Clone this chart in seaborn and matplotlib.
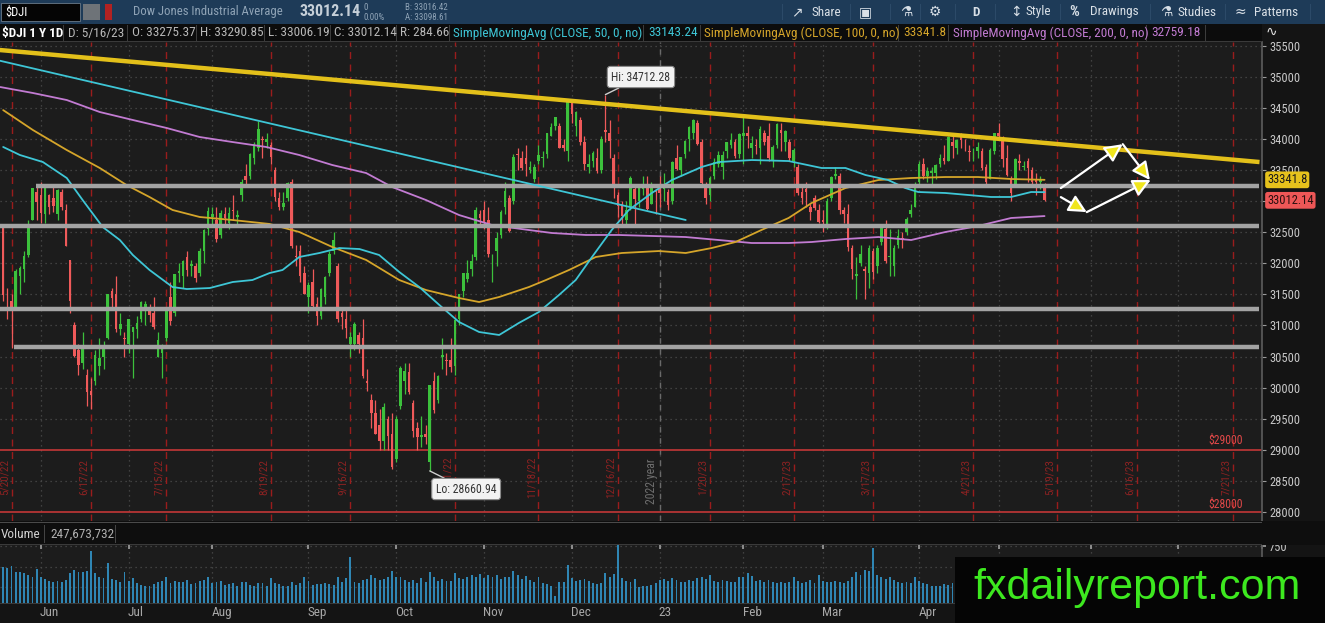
import numpy as np
import pandas as pd
import matplotlib
matplotlib.use("Agg")
import matplotlib.pyplot as plt
import matplotlib.transforms as mtrans
from matplotlib.patches import Rectangle
from matplotlib import font_manager
import seaborn as sns

# ---------------- data ($DJI daily, 5/17/22 - 5/16/23) ----------------
holidays = ['2022-05-30', '2022-06-20', '2022-07-04', '2022-09-05', '2022-11-24', '2022-12-26',
            '2023-01-02', '2023-01-16', '2023-02-20', '2023-04-07', '2023-05-29', '2023-06-19',
            '2023-07-04']

opens = [
    32450, 32600, 31300, 31400, 31300, 31800, 31900, 32130, 32700, 33150,
    33100, 32800, 33100, 33050, 32800, 33150, 32850, 32050, 31000, 30600, 30400, 30200, 29950, 30100, 30350, 30500, 30800, 31550, 31500, 30950, 30800,
    30700, 30900, 30950, 31100, 31250, 31250, 31200, 30500, 30550, 30800, 31450, 31200, 31850, 31800, 32100, 31950, 31950, 31850, 32200, 32550,
    32750, 32700, 32450, 32800, 32650, 32850, 32750, 33100, 33400, 33400, 33700, 33850, 34000, 33950, 33900, 33500, 33050, 32900, 33050, 33300, 32100, 32200, 31850,
    31450, 31700, 31350, 31150, 31450, 31850, 32200, 31950, 31200, 31100, 30700, 30700, 30850, 30800, 30100, 29800, 29600, 29400, 29150, 29500, 29250,
    28850, 29700, 30100, 30250, 29750, 29350, 29200, 29250, 28800, 30100, 29800, 30500, 30450, 30450, 30350, 31100, 31550, 31750, 31900, 32100, 32800,
    32850, 32700, 32000, 32200, 32450, 32900, 33050, 33000, 33750, 33700, 33700, 33500, 33350, 33650, 33700, 33750, 34050, 34200, 34200, 33900, 33800,
    34600, 34200, 34300, 33950, 33550, 33650, 33700, 33500, 34150, 34100, 33700, 33100, 32950, 32700, 32900, 33200, 33000, 33200, 33250, 32950, 33150,
    33200, 33200, 33150, 33000, 33700, 33500, 33750, 34000, 34100, 34250, 33950, 33250, 33100, 33400, 33600, 33550, 33800, 33900, 33950, 33750,
    34050, 34100, 33850, 33900, 33850, 34100, 34050, 33650, 33900, 34150, 33950, 33950, 33650, 33550, 33150, 33200, 32900, 33050, 32850,
    32700, 32600, 33050, 33400, 33400, 32850, 32800, 32250, 31800, 32000, 31900, 31850, 32200, 31950, 32350, 32550, 32100, 31950, 32300, 32400, 32500, 32800, 32900,
    33300, 33600, 33400, 33450, 33450, 33600, 33700, 33650, 33950, 33850, 34050, 33900, 33800, 33800, 33800, 33800, 33550, 33350, 33800,
    34100, 34000, 33700, 33350, 33250, 33650, 33550, 33650, 33500, 33350, 33300, 33275.37,
]
highs = [
    32680, 32620, 31600, 31500, 31900, 31950, 32200, 32700, 33213, 33250,
    33300, 33250, 33120, 33270, 33200, 33200, 32950, 32060, 31050, 30700, 30900, 30300, 30150, 30600, 30800, 30750, 31500, 31600, 31800, 31200, 30900,
    31100, 30950, 31150, 31400, 31400, 31350, 31450, 30900, 30700, 31300, 31700, 31830, 32000, 32050, 32200, 32050, 32000, 32250, 32550, 32900,
    32900, 32900, 32850, 32900, 32900, 33100, 32850, 33350, 33600, 33780, 33950, 34280, 34050, 34100, 33950, 33550, 33150, 33150, 33300, 33350, 32300, 32300, 31950,
    31700, 31900, 31450, 31600, 31800, 32200, 32500, 32000, 31300, 31250, 30900, 31050, 30900, 31100, 30300, 29900, 29800, 29650, 29750, 29550, 29600,
    29550, 30350, 30400, 30400, 29800, 29450, 29550, 29400, 30050, 30250, 30200, 30800, 30550, 30800, 31100, 31500, 31850, 32050, 32150, 32900, 32850,
    33000, 32900, 32150, 32500, 32850, 33300, 33100, 33750, 33850, 33800, 33900, 33650, 33600, 33900, 33800, 34100, 34250, 34350, 34250, 34000, 34600,
    34600, 34450, 34350, 34050, 33750, 33800, 33850, 34050, 34712.28, 34300, 33750, 33150, 33000, 33000, 33400, 33250, 33250, 33400, 33400, 33300, 33200,
    33400, 33450, 33200, 33650, 33900, 33700, 33980, 34200, 34320, 34300, 34000, 33300, 33400, 33700, 33800, 33800, 33950, 34100, 34000, 34100,
    34350, 34200, 34050, 34000, 34200, 34150, 34250, 33900, 34250, 34250, 34150, 34000, 33850, 33600, 33250, 33300, 32950, 33100, 32950,
    32850, 33050, 33400, 33550, 33450, 32900, 32950, 32300, 32100, 32300, 31950, 32300, 32250, 32300, 32600, 32700, 32550, 32300, 32550, 32500, 32750, 32950, 33300,
    33650, 33700, 33550, 33550, 33600, 33750, 33900, 34050, 34050, 34000, 34100, 34000, 33900, 33850, 33950, 33850, 33600, 33850, 34100,
    34257, 34050, 33900, 33400, 33700, 33750, 33650, 33700, 33550, 33450, 33400, 33290.85,
]
lows = [
    32360, 31400, 31100, 30640, 31250, 31500, 31700, 32100, 32690, 32700,
    32650, 32650, 32800, 32830, 32700, 32850, 32270, 31200, 30500, 30200, 30300, 29700, 29650, 30050, 30200, 30300, 30780, 31300, 30900, 30850, 30500,
    30550, 30150, 30800, 31050, 31000, 31050, 30950, 30500, 30150, 30750, 31000, 31150, 31700, 31600, 31800, 31800, 31700, 31800, 32000, 32450,
    32600, 32350, 32400, 32600, 32550, 32700, 32600, 33000, 33250, 33350, 33600, 33800, 33700, 33850, 33600, 33000, 32850, 32850, 33000, 32250, 31950, 31700, 31500,
    31200, 31250, 31000, 31100, 31350, 31800, 32150, 31050, 30950, 30800, 30500, 30600, 30550, 30150, 29950, 29350, 29250, 29000, 29000, 29000, 28700,
    28800, 29650, 29900, 29900, 29200, 29000, 29050, 29100, 28660.94, 29600, 29750, 30300, 30200, 30250, 30200, 31000, 31450, 31700, 31800, 32050, 32600,
    32550, 32100, 31700, 31950, 32400, 32800, 32500, 32950, 33500, 33500, 33400, 33450, 33300, 33600, 33550, 33700, 34050, 34150, 33850, 33800, 33650,
    34250, 34050, 33900, 33500, 33450, 33550, 33450, 33450, 33950, 33700, 33050, 32750, 32600, 32600, 32850, 32600, 32900, 33100, 32850, 32950, 32800,
    32900, 33000, 32850, 32950, 33500, 33400, 33700, 33800, 34000, 33900, 33250, 32950, 33000, 33350, 33550, 33350, 33700, 33850, 33700, 33700,
    33600, 33850, 33700, 33750, 33600, 33900, 33650, 33550, 33850, 33800, 33800, 33650, 33550, 33100, 32950, 32900, 32700, 32850, 32650,
    32500, 32550, 33000, 33350, 32800, 32650, 32200, 31750, 31430, 31950, 31430, 31600, 31750, 31850, 32300, 32000, 31800, 31800, 32250, 32250, 32450, 32750, 32900,
    33250, 33350, 33300, 33250, 33350, 33550, 33600, 33650, 33700, 33750, 33850, 33800, 33650, 33650, 33700, 33500, 33250, 33350, 33750,
    34000, 33550, 33400, 33000, 33250, 33500, 33500, 33300, 33250, 33100, 33200, 33006.19,
]
closes = [
    32654, 31490, 31253, 31262, 31880, 31928, 32120, 32637, 33213, 32990,
    32813, 33248, 32899, 32916, 33180, 32910, 32272, 31393, 30516, 30365, 30668, 29927, 29888, 30530, 30483, 30677, 31500, 31439, 30947, 31029, 30775,
    31097, 30968, 31037, 31385, 31338, 31173, 30981, 30772, 30630, 31289, 31072, 31827, 31875, 32036, 31899, 31990, 31762, 32198, 32529, 32845,
    32798, 32396, 32813, 32727, 32803, 32833, 32774, 33309, 33336, 33761, 33913, 34152, 33981, 33999, 33706, 33064, 32910, 32969, 33291, 32283, 32099, 31791, 31510,
    31656, 31318, 31145, 31581, 31775, 32152, 32381, 31105, 31135, 30962, 30822, 31020, 30706, 30184, 30077, 29590, 29260, 29135, 29684, 29226, 28726,
    29490, 30317, 30274, 29927, 29297, 29203, 29240, 29211, 30039, 29635, 30186, 30524, 30424, 30334, 31083, 31500, 31837, 31839, 32034, 32861, 32733,
    32653, 32148, 32001, 32403, 32827, 33160, 32514, 33716, 33748, 33537, 33593, 33553, 33546, 33746, 33700, 34098, 34195, 34347, 33850, 33853, 34590,
    34395, 34430, 33947, 33597, 33598, 33781, 33477, 34006, 34108, 33966, 33203, 32920, 32757, 32850, 33377, 33027, 33204, 33242, 32876, 33221, 33147,
    33136, 33270, 32930, 33631, 33518, 33704, 33974, 34190, 34303, 33910, 33297, 33045, 33375, 33630, 33734, 33744, 33949, 33978, 33717, 34086,
    34093, 34054, 33926, 33891, 34156, 33949, 33699, 33869, 34246, 34089, 34128, 33697, 33827, 33130, 33045, 33154, 32817, 32889, 32657,
    32662, 33004, 33391, 33432, 32856, 32798, 32254, 31910, 31820, 32155, 31875, 32247, 31862, 32245, 32561, 32030, 32106, 32238, 32433, 32394, 32718, 32860, 33274,
    33601, 33403, 33483, 33486, 33587, 33685, 33647, 34030, 33887, 33988, 33977, 33897, 33787, 33809, 33876, 33531, 33302, 33827, 34098,
    34051, 33684, 33415, 33128, 33675, 33619, 33562, 33531, 33309, 33301, 33349, 33012.14,
]
# volume in millions
volumes = [
    470, 500, 480, 510, 430, 440, 420, 400, 380, 470,
    370, 350, 330, 320, 330, 320, 340, 420, 460, 430, 440, 450, 690, 420, 380, 360, 540, 350, 340, 310, 430,
    330, 360, 300, 280, 270, 270, 290, 310, 330, 370, 300, 330, 320, 320, 340, 290, 300, 330, 340, 380,
    300, 320, 330, 280, 290, 300, 270, 320, 310, 280, 260, 300, 300, 260, 360, 300, 290, 270, 260, 320, 280, 300, 380,
    330, 280, 290, 290, 300, 290, 280, 380, 320, 360, 620, 310, 300, 340, 350, 400, 360, 340, 350, 380, 450,
    370, 370, 340, 320, 340, 300, 360, 320, 440, 380, 330, 350, 330, 330, 420, 360, 350, 370, 400, 380, 410,
    360, 400, 380, 400, 350, 380, 370, 450, 400, 350, 390, 340, 320, 370, 300, 290, 270, 150, 320, 310, 520,
    360, 330, 340, 350, 330, 300, 290, 300, 420, 380, 410, 760, 360, 330, 310, 350, 250, 270, 260, 280, 300,
    340, 350, 330, 360, 340, 320, 310, 340, 330, 360, 370, 350, 400, 330, 320, 340, 330, 310, 310, 380,
    380, 420, 390, 330, 340, 320, 340, 310, 300, 320, 300, 310, 380, 330, 300, 310, 340, 300, 400,
    330, 320, 310, 330, 320, 300, 330, 370, 440, 400, 460, 450, 720, 400, 380, 350, 370, 340, 310, 300, 310, 300, 380,
    330, 300, 290, 270, 260, 270, 290, 280, 300, 270, 280, 270, 280, 320, 260, 300, 310, 300, 330,
    280, 310, 300, 320, 300, 250, 260, 290, 270, 280, 260, 248,
]

# moving averages (session index, value)
ma50_idx = [1, 5, 10.5, 16.2, 20, 24.8, 28.9, 32, 36, 41.5, 44.9, 50.4, 55.9, 60.6, 64.7, 67.8, 71.8,
            76.6, 81.4, 86.2, 90.9, 95.7, 100.5, 105.3, 110, 114.8, 119.6, 124.3, 129.1, 133.9, 137.9,
            141.8, 146.5, 150.6, 156.1, 160.9, 168, 172.1, 180, 188.8, 196.7, 202.4, 207.2, 212.6,
            216.7, 219.8, 226.3, 237.2, 242, 246.8, 250]
ma50 = [33870, 33741, 33628, 33371, 33017, 32583, 32374, 32133, 31892, 31618, 31586, 31602, 31699,
        31731, 31843, 31892, 32101, 32165, 32245, 32229, 32133, 31860, 31618, 31329, 31056, 30895,
        30847, 31040, 31217, 31490, 31731, 32101, 32535, 32857, 33130, 33339, 33548, 33628, 33660,
        33644, 33532, 33532, 33419, 33339, 33210, 33146, 33130, 33066, 33066, 33146, 33143.24]
ma100_idx = [1, 8.1, 16.2, 24.1, 30.5, 36, 41.5, 48, 55.8, 64.7, 71.8, 79.7, 87.8, 95.7, 102.1, 110,
             114.8, 119.6, 126.7, 130.8, 136.3, 142.7, 148.9, 157.8, 164.2, 170.4, 176.1, 182.3,
             188.8, 194.3, 202.4, 210.3, 218.1, 226.3, 234.1, 242, 250]
ma100 = [34463, 34143, 33821, 33532, 33258, 33065, 32857, 32744, 32696, 32632, 32503, 32262, 32053,
         31731, 31570, 31441, 31377, 31458, 31618, 31731, 31892, 32101, 32165, 32197, 32165, 32245,
         32342, 32535, 32728, 32969, 33210, 33339, 33371, 33387, 33387, 33355, 33341.8]
ma200_idx = [0.3, 8.1, 16.2, 24.1, 32, 40.1, 48, 55.8, 63.9, 71.8, 79.7, 87.8, 94, 102.1, 110, 117.9,
             126.7, 132.2, 140.3, 148.2, 156.1, 164.2, 172.1, 180, 188.8, 194.3, 202.4, 210.3, 218.1,
             226.3, 234.1, 242, 250]
ma200 = [34834, 34738, 34625, 34432, 34304, 34175, 34030, 33950, 33870, 33741, 33580, 33451, 33226,
         33017, 32776, 32615, 32535, 32487, 32455, 32455, 32439, 32422, 32374, 32326, 32326, 32342,
         32390, 32422, 32374, 32503, 32599, 32728, 32759.18]

# drawings on the chart (session index, price)
yellow_trend = ([0.2, 301.4], [35429, 33628])
cyan_trend = ([0.2, 164.2], [35257, 32696])
sr_levels = [33243, 32600, 31265, 30654]
sr_start = [8.8, 0.0, 0.0, 3.6]
red_levels = [29000, 28000]
red_label_y = [29150, 28120]
expiries = ['2022-05-20', '2022-06-17', '2022-07-15', '2022-08-19', '2022-09-16', '2022-10-21',
            '2022-11-18', '2022-12-16', '2023-01-20', '2023-02-17', '2023-03-17', '2023-04-21',
            '2023-05-19', '2023-06-16', '2023-07-21']
arrow_up = [(253.9, 33209), (268.7, 33915), (275.2, 33339)]
arrow_down = [(253.9, 33064), (260.1, 32823), (275.4, 33339)]

# ---------------- style ----------------
sns.set_theme(style="dark")
avail = {f.name for f in font_manager.fontManager.ttflist}
ui_font = 'DejaVu Sans'
for cand in ['Liberation Sans Narrow', 'Roboto Condensed', 'Open Sans Condensed', 'Roboto', 'Liberation Sans']:
    if cand in avail:
        ui_font = cand
        break
plt.rcParams['font.family'] = [ui_font, 'DejaVu Sans']

UP, DN = '#3cc13c', '#ef5a5a'
BG = '#1c1c1c'
W, H = 1325, 623

def fx(x):
    return x / W

def fy(y):
    return 1 - y / H

cal = pd.bdate_range('2022-05-17', '2023-08-31', freq='C', holidays=holidays)
pos = {d: i for i, d in enumerate(cal)}
n = len(closes)
idx = np.arange(n)
o, h, l, c = map(np.asarray, (opens, highs, lows, closes))
h = np.maximum(h, np.maximum(o, c))
l = np.minimum(l, np.minimum(o, c))

fig = plt.figure(figsize=(W / 100, H / 100), dpi=100, facecolor='#141414')
ax = fig.add_axes([0, fy(521), fx(1262), (521 - 42) / H])
vax = fig.add_axes([0, fy(603), fx(1262), (603 - 545) / H])
XL = (0.24, 301.4)

# ---------------- price pane ----------------
ax.set_facecolor(BG)
ax.set_xlim(*XL)
ax.set_ylim(27856, 35558)
months = pd.Series(range(len(cal)), index=cal).groupby(cal.to_period('M')).first()
month_ticks = [v for k, v in months.items() if v > 2]
month_names = [('23' if k.year == 2023 and k.month == 1 else k.strftime('%b'))
               for k, v in months.items() if v > 2]

for yv in range(28500, 35600, 500):
    if yv not in red_levels:
        ax.axhline(yv, color='#4d4d4d', lw=0.9, ls=(0, (1, 3)), zorder=0)
for t in month_ticks:
    ax.axvline(t, color='#4d4d4d', lw=0.9, ls=(0, (1, 3)), zorder=0)

for e in expiries:
    xi = pos[pd.Timestamp(e)]
    ax.axvline(xi, color='#9a1c1c', lw=1.0, ls=(0, (5, 4)), zorder=1)
    d = pd.Timestamp(e)
    ax.text(xi - 0.5, 28560, f'{d.month}/{d.day}/{d.strftime("%y")}', rotation=90, ha='right',
            va='center', color='#8c2222', fontsize=8, zorder=1)
yr = pos[pd.Timestamp('2023-01-03')]
ax.axvline(yr, color='#6a6a6a', lw=1.0, ls=(0, (4, 4)), zorder=1)
ax.text(yr - 0.5, 28500, '2022 year', rotation=90, ha='right', va='center', color='#6e6e6e',
        fontsize=8.5, zorder=1)

for lv, ly in zip(red_levels, red_label_y):
    ax.axhline(lv, color='#d23a3a', lw=1.1, zorder=1)
    ax.text(297.5, ly, f'${lv}', ha='right', va='center', color='#e04848', fontsize=8.5, zorder=1)

cols = np.where(c >= o, UP, DN)
ax.vlines(idx, l, h, colors=cols, lw=0.9, zorder=2)
body = np.maximum(np.abs(c - o), 12)
ax.bar(idx, body, bottom=np.minimum(o, c), width=0.62, color=cols, lw=0, zorder=2)

for xs, vals, col in [(ma200_idx, ma200, '#c27bd2'), (ma100_idx, ma100, '#d5a52a'),
                      (ma50_idx, ma50, '#3ec6d6')]:
    sns.lineplot(x=xs, y=vals, ax=ax, color=col, lw=1.3, legend=False, zorder=3)

for lv, st in zip(sr_levels, sr_start):
    ax.hlines(lv, st, XL[1], color='#a3a3a3', lw=3.2, zorder=4)

ax.plot(*cyan_trend, color='#3ec6d6', lw=1.3, zorder=5)
ax.plot(*yellow_trend, color='#e3c01a', lw=3.2, zorder=5, solid_capstyle='butt')

for pts in (arrow_up, arrow_down):
    for a, b in zip(pts[:-1], pts[1:]):
        ax.annotate('', xy=b, xytext=a, zorder=6,
                    arrowprops=dict(arrowstyle='-|>,head_length=0.9,head_width=0.45',
                                    fc='#f0e61c', ec='white', lw=1.6, shrinkA=0, shrinkB=0))

hi_i = int(np.argmax(h))
lo_i = int(np.argmin(l))
box = dict(boxstyle='round,pad=0.35,rounding_size=0.25', fc='#f2f2f2', ec='#8a8a8a', lw=0.8)
ax.annotate(f'Hi: {h[hi_i]:.2f}', xy=(hi_i, h[hi_i]), xytext=(hi_i + 8.5, 34995), ha='center',
            va='center', fontsize=8.5, color='#333333', bbox=box, zorder=7,
            arrowprops=dict(arrowstyle='-', color='#cfcfcf', lw=1, shrinkA=0, shrinkB=0))
ax.annotate(f'Lo: {l[lo_i]:.2f}', xy=(lo_i, l[lo_i]), xytext=(lo_i + 8.7, 28370), ha='center',
            va='center', fontsize=8.5, color='#333333', bbox=box, zorder=7,
            arrowprops=dict(arrowstyle='-', color='#cfcfcf', lw=1, shrinkA=0, shrinkB=0))

yt = list(range(28000, 35600, 500))
ax.yaxis.tick_right()
ax.set_yticks(yt)
# the 33000 label sits under the last-price tag
ax.set_yticklabels(['' if v == 33000 else str(v) for v in yt])
ax.tick_params(axis='y', colors='#9a9a9a', labelcolor='#c8c8c8', labelsize=9, length=3, pad=2,
               direction='out', width=0.8, right=True)
ax.set_xticks(month_ticks)
ax.tick_params(axis='x', bottom=True, length=3, colors='#8a8a8a', labelbottom=False, direction='out')
for s in ['top', 'left', 'bottom']:
    ax.spines[s].set_visible(False)
ax.spines['right'].set_color('#5a5a5a')
ax.grid(False)

tr = mtrans.blended_transform_factory(ax.transAxes, ax.transData)
ax.text(1.004, ma100[-1], f'{ma100[-1]}', transform=tr,
        ha='left', va='center', fontsize=9, color='#1a1a1a', zorder=9, clip_on=False,
        bbox=dict(boxstyle='round,pad=0.15,rounding_size=0.2', fc='#e6c21c', ec='none'))
ax.text(1.004, c[-1], f'{c[-1]:.2f}', transform=tr, ha='left', va='center', fontsize=9,
        color='#2a1010', zorder=9, clip_on=False,
        bbox=dict(boxstyle='round,pad=0.15,rounding_size=0.2', fc='#ee5757', ec='none'))

# ---------------- volume pane ----------------
vax.set_facecolor(BG)
vax.set_xlim(*XL)
vax.set_ylim(60, 762)
for yv in (250, 500, 750):
    vax.axhline(yv, color='#4d4d4d', lw=0.9, ls=(0, (1, 3)), zorder=0)
for t in month_ticks:
    vax.axvline(t, color='#4d4d4d', lw=0.9, ls=(0, (1, 3)), zorder=0)
vax.bar(idx, volumes, width=0.45, color='#2f86b4', lw=0, zorder=2)
vax.yaxis.tick_right()
vax.set_yticks([750])
vax.set_yticklabels(['750'])
vax.tick_params(axis='y', colors='#9a9a9a', labelcolor='#c8c8c8', labelsize=9, length=3, pad=2)
vax.set_xticks(month_ticks)
vax.tick_params(axis='x', top=True, bottom=False, length=3, colors='#9a9a9a', labelbottom=False,
                direction='in')
for s in ['top', 'left', 'bottom']:
    vax.spines[s].set_visible(False)
vax.spines['right'].set_color('#5a5a5a')
vax.grid(False)
mtr = mtrans.blended_transform_factory(vax.transData, vax.transAxes)
for t, name in zip(month_ticks, month_names):
    vax.text(t - 0.2, -0.16, name, transform=mtr, ha='left', va='center', color='#a8a8a8',
             fontsize=9.5, clip_on=False)

# ---------------- header bars ----------------
def rect(x0, y0, x1, y1, fc, ec='none', lw=0, z=1):
    fig.patches.append(Rectangle((fx(x0), fy(y1)), fx(x1 - x0), (y1 - y0) / H, transform=fig.transFigure,
                                 fc=fc, ec=ec, lw=lw, zorder=z))

def txt(x, y, s, **kw):
    fig.text(fx(x), fy(y), s, va='center', **kw)

rect(0, 0, W, 24, '#1e3b58')
rect(0, 24, 1262, 42, '#0c0c0c')
rect(1, 3, 80, 21, '#050505', ec='#6a7a8a', lw=0.6, z=2)
txt(5, 12, '$DJI', color='white', fontsize=9, zorder=3)
rect(83, 4, 100, 20, '#6e7378', z=2)
rect(105, 4, 112, 20, '#b22222', z=2)
txt(133, 12, 'Dow Jones Industrial Average', color='#8fa3b6', fontsize=9.2)
txt(300, 12, '33012.14', color='#c5cfd8', fontsize=11.5, fontweight='bold')
txt(363, 7, '0', color='#8fa3b6', fontsize=6.5)
txt(363, 17, '0.00%', color='#8fa3b6', fontsize=6.5)
txt(405, 7, 'B: 33016.42', color='#8fa3b6', fontsize=6.5)
txt(405, 17, 'A: 33098.61', color='#8fa3b6', fontsize=6.5)
for x, s in [(812, 'Share'), (972, 'D'), (1025, 'Style'), (1090, 'Drawings'), (1177, 'Studies'),
             (1254, 'Patterns')]:
    txt(x, 12, s, color='#d8dfe6', fontsize=9.5, fontweight='bold' if s == 'D' else 'normal')
txt(1069, 12, '%', color='#d8dfe6', fontsize=11, fontweight='bold')
for x, s in [(791, '\u2197'), (900, '\u2697'), (929, '\u2699'), (1160, '\u2697'), (1010, '\u2195'),
             (1235, '\u2248'), (859, '\u25a3')]:
    txt(x, 12, s, color='#d8dfe6', fontsize=10, family='DejaVu Sans')
for x in [782, 850, 890, 920, 955, 995, 1060, 1150, 1225, 1310]:
    rect(x, 4, x + 1, 20, '#2c4a68', z=2)

items = [(2, '$DJI 1 Y 1D', 'white', 'bold'), (68, 'D: 5/16/23', '#b8b8b8', 'normal'),
         (132, 'O: 33275.37', '#b8b8b8', 'normal'), (200, 'H: 33290.85', '#b8b8b8', 'normal'),
         (268, 'L: 33006.19', '#b8b8b8', 'normal'), (334, 'C: 33012.14', '#b8b8b8', 'normal'),
         (400, 'R: 284.66', '#b8b8b8', 'normal'),
         (453, 'SimpleMovingAvg (CLOSE, 50, 0, no)', '#3ec6d6', 'normal'), (648, '33143.24', '#3ec6d6', 'normal'),
         (704, 'SimpleMovingAvg (CLOSE, 100, 0, no)', '#d5a52a', 'normal'), (903, '33341.8', '#d5a52a', 'normal'),
         (953, 'SimpleMovingAvg (CLOSE, 200, 0, no)', '#c27bd2', 'normal'), (1151, '32759.18', '#c27bd2', 'normal')]
for x, s, col, wt in items:
    txt(x, 33, s, color=col, fontsize=9.5, fontweight=wt)
for x in [63, 127, 196, 264, 330, 396, 449, 643, 700, 898, 948, 1146, 1205]:
    rect(x, 25, x + 1, 41, '#3c3c3c', z=2)
rect(0, 41, 1262, 42, '#3a3a3a', z=2)
# small study icon above the price scale
rect(1264, 25, 1300, 40, '#141414', z=2)
txt(1266, 32, '\u223f', color='#e0e0e0', fontsize=10, family='DejaVu Sans', zorder=3)

# volume header
rect(0, 521, W, 545, '#0e0e0e')
rect(0, 522, 1262, 523, '#4a4a4a', z=2)
rect(0, 544, 1262, 545, '#3a3a3a', z=2)
txt(1, 534, 'Volume', color='#d0d0d0', fontsize=9.5)
txt(50, 534, '247,673,732', color='#b0b0b0', fontsize=9.5)
rect(44, 525, 45, 543, '#444444', z=2)
rect(115, 525, 116, 543, '#444444', z=2)
rect(0, 603, 1262, 604, '#3a3a3a', z=2)

# watermark
rect(955, 557, W, H, '#050505', z=5)
fig.text(fx(1137), fy(588), 'fxdailyreport.com', ha='center', va='center', color='#3de81f',
         fontsize=31, family=['Liberation Sans', 'DejaVu Sans'], zorder=6)

fig.savefig('out.png', dpi=100, facecolor=fig.get_facecolor())
